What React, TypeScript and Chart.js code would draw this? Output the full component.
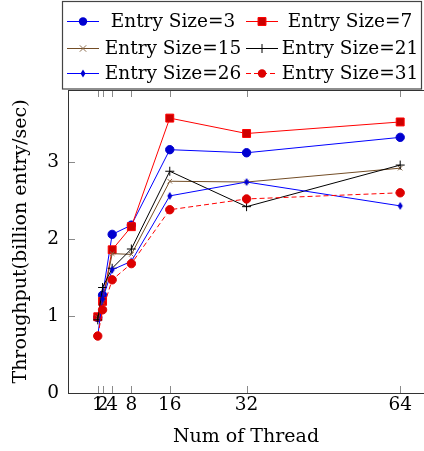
import React, { useEffect, useRef } from "react";
import { Chart, registerables } from "chart.js";

Chart.register(...registerables);

// ---- data ----
const threads = [1, 2, 4, 8, 16, 32, 64];
const xTickValues = [1, 2, 4, 8, 16, 32, 64];
const yTickValues = [0, 1, 2, 3];

const entrySize3 = [0.98, 1.27, 2.06, 2.18, 3.16, 3.12, 3.32];
const entrySize7 = [0.99, 1.19, 1.86, 2.16, 3.57, 3.37, 3.52];
const entrySize15 = [0.98, 1.18, 1.81, 1.8, 2.75, 2.74, 2.92];
const entrySize21 = [0.95, 1.37, 1.62, 1.87, 2.88, 2.42, 2.96];
const entrySize26 = [0.74, 1.22, 1.6, 1.71, 2.56, 2.74, 2.43];
const entrySize31 = [0.74, 1.08, 1.47, 1.68, 2.38, 2.52, 2.6];

const seriesLabels = [
  "Entry Size=3",
  "Entry Size=7",
  "Entry Size=15",
  "Entry Size=21",
  "Entry Size=26",
  "Entry Size=31",
];

const xTitle = "Num of Thread";
const yTitle = "Throughput(billion entry/sec)";

const FONT = "'DejaVu Serif', 'Liberation Serif', serif";

type Style = {
  line: string;
  fill: string;
  stroke: string;
  point: string;
  radius: number;
  dash: number[];
};

const styles: Style[] = [
  { line: "#0000ff", fill: "#0000d0", stroke: "#0000d0", point: "circle", radius: 4.2, dash: [] },
  { line: "#ff0000", fill: "#cc0000", stroke: "#ff0000", point: "rect", radius: 5.6, dash: [] },
  { line: "#734d26", fill: "#734d26", stroke: "#8a6a4a", point: "crossRot", radius: 3.2, dash: [] },
  { line: "#000000", fill: "#000000", stroke: "#000000", point: "cross", radius: 4.5, dash: [] },
  { line: "#0000ff", fill: "#0000d0", stroke: "#0000d0", point: "diamond", radius: 4, dash: [] },
  { line: "#ff0000", fill: "#dd0000", stroke: "#dd0000", point: "circle", radius: 4.2, dash: [5, 3] },
];

const seriesValues = [entrySize3, entrySize7, entrySize15, entrySize21, entrySize26, entrySize31];

function drawMarker(ctx: CanvasRenderingContext2D, s: Style, x: number, y: number) {
  const r = s.radius;
  ctx.save();
  ctx.setLineDash([]);
  ctx.fillStyle = s.fill;
  ctx.strokeStyle = s.stroke;
  ctx.lineWidth = 1;
  ctx.beginPath();
  if (s.point === "circle") {
    ctx.arc(x, y, r, 0, Math.PI * 2);
    ctx.fill();
  } else if (s.point === "rect") {
    const h = r * Math.SQRT1_2;
    ctx.rect(x - h, y - h, 2 * h, 2 * h);
    ctx.fill();
    ctx.stroke();
  } else if (s.point === "diamond") {
    ctx.moveTo(x, y - r);
    ctx.lineTo(x + r * 0.62, y);
    ctx.lineTo(x, y + r);
    ctx.lineTo(x - r * 0.62, y);
    ctx.closePath();
    ctx.fill();
  } else if (s.point === "cross") {
    ctx.moveTo(x - r, y);
    ctx.lineTo(x + r, y);
    ctx.moveTo(x, y - r);
    ctx.lineTo(x, y + r);
    ctx.stroke();
  } else if (s.point === "crossRot") {
    ctx.moveTo(x - r, y - r);
    ctx.lineTo(x + r, y + r);
    ctx.moveTo(x - r, y + r);
    ctx.lineTo(x + r, y - r);
    ctx.stroke();
  }
  ctx.restore();
}

function makeDiamondImage(s: Style): HTMLCanvasElement {
  const c = document.createElement("canvas");
  const size = Math.ceil(s.radius * 2 + 2);
  c.width = size;
  c.height = size;
  const g = c.getContext("2d")!;
  drawMarker(g, s, size / 2, size / 2);
  return c;
}

const framePlugin = {
  id: "frame",
  beforeDatasetsDraw(chart: any) {
    const { ctx, chartArea: a, scales } = chart;
    const x = scales.x;
    const y = scales.y;
    ctx.save();
    ctx.lineWidth = 1;
    ctx.strokeStyle = "#8a8a8a";
    ctx.beginPath();
    for (const v of xTickValues) {
      const px = Math.round(x.getPixelForValue(v)) + 0.5;
      ctx.moveTo(px, a.bottom);
      ctx.lineTo(px, a.bottom - 7);
      ctx.moveTo(px, a.top);
      ctx.lineTo(px, a.top + 7);
    }
    for (const v of yTickValues) {
      const py = Math.round(y.getPixelForValue(v)) + 0.5;
      ctx.moveTo(a.left, py);
      ctx.lineTo(a.left + 7, py);
    }
    ctx.stroke();
    ctx.strokeStyle = "#333333";
    ctx.beginPath();
    ctx.moveTo(a.left + 0.5, a.top + 0.5);
    ctx.lineTo(a.right, a.top + 0.5);
    ctx.moveTo(a.left + 0.5, a.top);
    ctx.lineTo(a.left + 0.5, a.bottom + 1);
    ctx.moveTo(a.left, a.bottom + 0.5);
    ctx.lineTo(a.right, a.bottom + 0.5);
    ctx.stroke();
    ctx.restore();
  },
};

const legendPlugin = {
  id: "texLegend",
  afterDraw(chart: any) {
    const { ctx } = chart;
    ctx.save();
    ctx.strokeStyle = "#444444";
    ctx.lineWidth = 1.2;
    ctx.strokeRect(62.5, 1.5, 359, 87.5);
    const rows = [21, 48, 73];
    const cols = [
      { l0: 67, l1: 99, textC: 173 },
      { l0: 246, l1: 278, textC: 350 },
    ];
    ctx.font = `18.5px ${FONT}`;
    ctx.textAlign = "center";
    ctx.textBaseline = "middle";
    chart.data.datasets.forEach((ds: any, i: number) => {
      const s = styles[i];
      const row = rows[Math.floor(i / 2)];
      const c = cols[i % 2];
      ctx.save();
      ctx.strokeStyle = s.line;
      ctx.lineWidth = 1;
      ctx.setLineDash(s.dash);
      ctx.beginPath();
      ctx.moveTo(c.l0, row + 0.5);
      ctx.lineTo(c.l1, row + 0.5);
      ctx.stroke();
      ctx.restore();
      drawMarker(ctx, s, (c.l0 + c.l1) / 2, row + 0.5);
      ctx.fillStyle = "#000000";
      ctx.fillText(ds.label, c.textC, row + 1);
    });
    ctx.restore();
  },
};

export default function App() {
  const ref = useRef<HTMLCanvasElement | null>(null);

  useEffect(() => {
    const canvas = ref.current;
    if (!canvas) return;
    const n = seriesValues.length;
    const datasets = seriesValues.map((vals, i) => {
      const s = styles[i];
      return {
        label: seriesLabels[i],
        data: threads.map((t, j) => ({ x: t, y: vals[j] })),
        order: n - 1 - i,
        borderColor: s.line,
        backgroundColor: s.fill,
        borderWidth: 1,
        borderDash: s.dash,
        pointStyle: s.point === "diamond" ? makeDiamondImage(s) : s.point,
        pointRadius: s.radius,
        pointBackgroundColor: s.fill,
        pointBorderColor: s.stroke,
        pointBorderWidth: 1,
        tension: 0,
        fill: false,
      };
    });

    const chart = new Chart(canvas, {
      type: "line",
      data: { datasets } as any,
      plugins: [framePlugin, legendPlugin],
      options: {
        animation: false,
        responsive: false,
        devicePixelRatio: 1,
        layout: { autoPadding: false, padding: { top: 90, left: 0, right: 0, bottom: 0 } },
        plugins: {
          legend: { display: false },
          tooltip: { enabled: false },
        },
        scales: {
          x: {
            type: "linear",
            min: -5.2,
            max: 68.96,
            grid: { display: false, drawTicks: false },
            border: { display: false },
            afterBuildTicks: (scale: any) => {
              scale.ticks = xTickValues.map((v) => ({ value: v }));
            },
            afterFit: (scale: any) => {
              scale.height = 58;
              scale.paddingLeft = 0;
              scale.paddingRight = 0;
            },
            ticks: {
              autoSkip: false,
              maxRotation: 0,
              padding: 1,
              color: "#000000",
              font: { family: FONT, size: 18.5 },
              callback: (v: any) => String(v),
            },
            title: {
              display: true,
              text: xTitle,
              color: "#000000",
              font: { family: FONT, size: 19 },
              padding: { top: 0, bottom: 3 },
            },
          },
          y: {
            type: "linear",
            min: 0,
            max: 3.935,
            grid: { display: false, drawTicks: false },
            border: { display: false },
            afterBuildTicks: (scale: any) => {
              scale.ticks = yTickValues.map((v) => ({ value: v }));
            },
            afterFit: (scale: any) => {
              scale.width = 68;
              scale.paddingTop = 0;
              scale.paddingBottom = 0;
            },
            ticks: {
              autoSkip: false,
              padding: 9,
              color: "#000000",
              font: { family: FONT, size: 18.5 },
              callback: (v: any) => String(v),
            },
            title: {
              display: true,
              text: yTitle,
              color: "#000000",
              font: { family: FONT, size: 19 },
              padding: { top: 10, bottom: 0 },
            },
          },
        },
      } as any,
    });
    return () => chart.destroy();
  }, []);

  return (
    <div style={{ position: "absolute", left: 0, top: 0, width: 424, height: 451 }}>
      <canvas ref={ref} width={424} height={451} style={{ display: "block", width: 424, height: 451 }} />
    </div>
  );
}
